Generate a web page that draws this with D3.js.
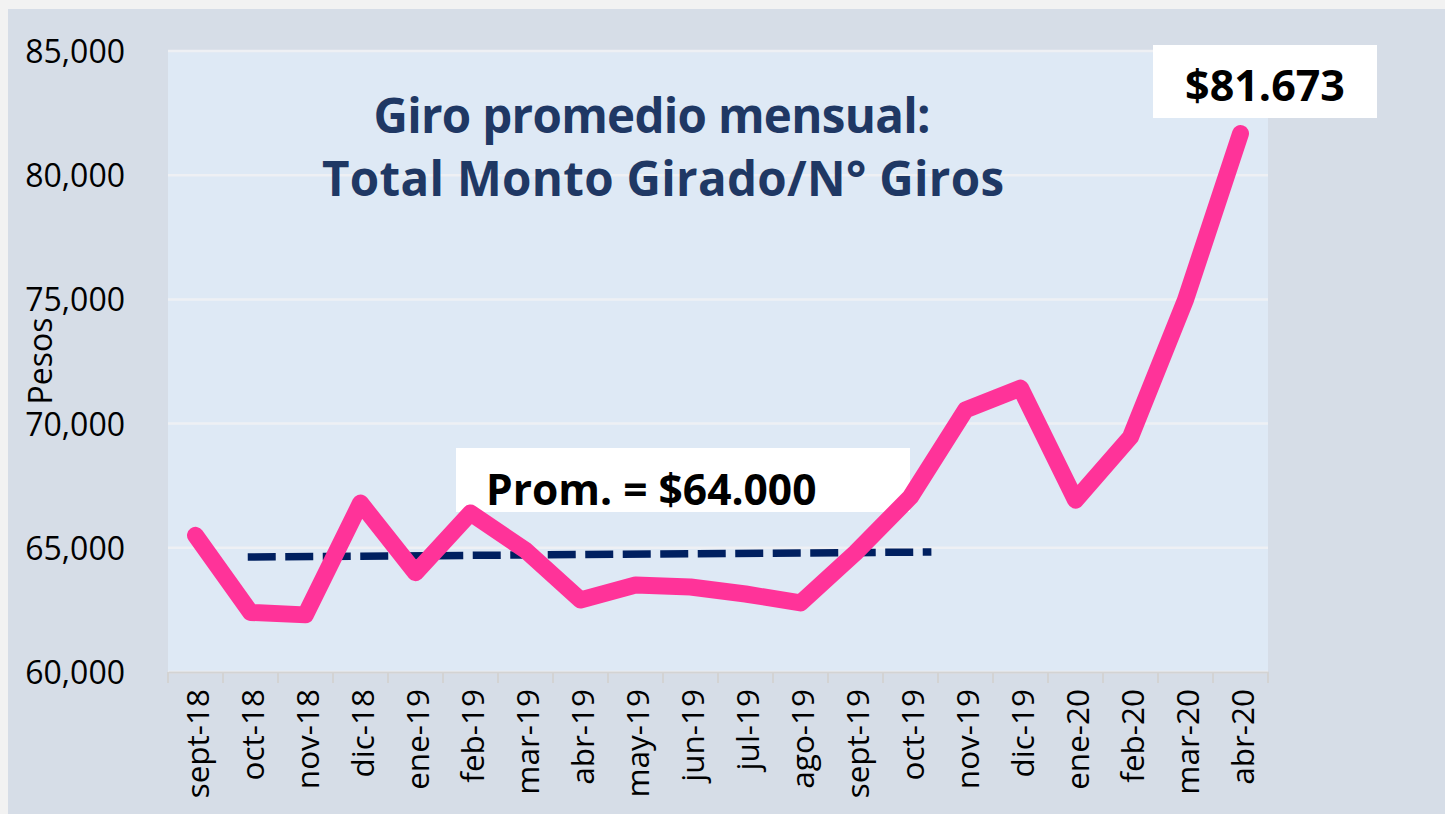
<!DOCTYPE html>
<html>
<head>
<meta charset="utf-8">
<script src="https://cdn.jsdelivr.net/npm/d3@7"></script>
<style>
  html, body { margin: 0; padding: 0; background: #f2f2f2; }
  #chart-area { width: 1445px; height: 814px; }
</style>
</head>
<body>
<div id="chart-area"></div>
<script>
// data
let months = ["sept-18", "oct-18", "nov-18", "dic-18", "ene-19", "feb-19", "mar-19", "abr-19",
	"may-19", "jun-19", "jul-19", "ago-19", "sept-19", "oct-19", "nov-19", "dic-19",
	"ene-20", "feb-20", "mar-20", "abr-20"];
let giroPromedio = [65500, 62400, 62300, 66800, 64000, 66400, 64900, 62900,
	63500, 63420, 63140, 62780, 64800, 67050, 70550, 71430,
	66920, 69460, 74980, 81673];
// dashed average line: month index where it starts / ends and its value there
let promIdx = [0.95, 13.38];
let promVal = [64630, 64830];
let yTicks = [60000, 65000, 70000, 75000, 80000, 85000];

let W = 1445, H = 814;
let margin = {top: 51, right: 177, bottom: 142, left: 168};
let width = W - margin.left - margin.right;
let height = H - margin.top - margin.bottom;

let root = d3.select("#chart-area").append("svg")
	.attr("width", W)
	.attr("height", H);

// chart frame
root.append("rect")
	.attr("x", 8).attr("y", 9)
	.attr("width", W - 8).attr("height", H - 9)
	.attr("fill", "#d6dde7");

let svg = root.append("g")
	.attr("transform", `translate(${margin.left},${margin.top})`);

// plot area
svg.append("rect")
	.attr("width", width)
	.attr("height", height)
	.attr("fill", "#dee9f5");

// scales
let xScale = d3.scaleBand()
	.domain(months)
	.range([0, width]);

let xIdx = d3.scaleLinear()
	.domain([0, months.length - 1])
	.range([xScale.bandwidth() / 2, width - xScale.bandwidth() / 2]);

let yScale = d3.scaleLinear()
	.domain([60000, 85000])
	.range([height, 0]);

// gridlines
svg.selectAll(".grid")
	.data(yTicks)
	.enter().append("line")
	.attr("class", "grid")
	.attr("x1", 0).attr("x2", width)
	.attr("y1", d => yScale(d)).attr("y2", d => yScale(d))
	.attr("stroke", "#eef0f4")
	.attr("stroke-width", 2.5);

// y axis
let yAxis = d3.axisLeft(yScale)
	.tickValues(yTicks)
	.tickFormat(d3.format(","))
	.tickSize(0)
	.tickPadding(43);

let yGroup = svg.append("g").call(yAxis);
yGroup.select(".domain").remove();
yGroup.selectAll("text")
	.attr("font-family", "'Open Sans', sans-serif")
	.attr("font-size", 32)
	.attr("fill", "#000")
	.attr("dy", "0.36em");

// x axis
let xAxis = d3.axisBottom(xScale)
	.tickSize(0)
	.tickPadding(0);

let xGroup = svg.append("g")
	.attr("transform", `translate(0,${height})`)
	.call(xAxis);
xGroup.select(".domain")
	.attr("stroke", "#d3d3d3")
	.attr("stroke-width", 2);
xGroup.selectAll("text")
	.attr("font-family", "'Open Sans', sans-serif")
	.attr("font-size", 31.5)
	.attr("fill", "#000")
	.attr("text-anchor", "end")
	.attr("transform", "rotate(-90)")
	.attr("x", -17)
	.attr("y", 2)
	.attr("dy", "0.36em");

// tick marks at the band edges
svg.selectAll(".xtick")
	.data(d3.range(months.length + 1))
	.enter().append("line")
	.attr("class", "xtick")
	.attr("x1", d => d * xScale.step())
	.attr("x2", d => d * xScale.step())
	.attr("y1", height)
	.attr("y2", height + 11)
	.attr("stroke", "#d3d3d3")
	.attr("stroke-width", 2);

// y axis title
root.append("text")
	.attr("transform", `translate(52,${361}) rotate(-90)`)
	.attr("text-anchor", "middle")
	.attr("font-family", "'Open Sans', sans-serif")
	.attr("font-size", 32)
	.attr("fill", "#000")
	.text("Pesos");

// title
let title = svg.append("text")
	.attr("font-family", "'Open Sans', sans-serif")
	.attr("font-weight", "bold")
	.attr("font-size", 47.5)
	.attr("fill", "#1f3864")
	.attr("text-anchor", "middle");
title.append("tspan")
	.attr("x", 652 - margin.left).attr("y", 133 - margin.top)
	.attr("textLength", 557)
	.text("Giro promedio mensual:");
title.append("tspan")
	.attr("x", 663 - margin.left).attr("y", 196 - margin.top)
	.attr("textLength", 682)
	.text("Total Monto Girado/N° Giros");

// average dashed line
let promData = promIdx.map((d, i) => ({i: d, v: promVal[i]}));
let promLine = d3.line()
	.x(d => xIdx(d.i))
	.y(d => yScale(d.v));

svg.append("path")
	.datum(promData)
	.attr("d", promLine)
	.attr("fill", "none")
	.attr("stroke", "#002060")
	.attr("stroke-width", 7.5)
	.attr("stroke-dasharray", "28,9.5");

// label box for the average
svg.append("rect")
	.attr("x", 456 - margin.left).attr("y", 448 - margin.top)
	.attr("width", 454).attr("height", 64)
	.attr("fill", "#fff");
svg.append("text")
	.attr("x", 486 - margin.left).attr("y", 505 - margin.top)
	.attr("font-family", "'Open Sans', sans-serif")
	.attr("font-weight", "bold")
	.attr("font-size", 42.5)
	.attr("fill", "#000")
	.text("Prom. = $64.000");

// main series
let lineData = months.map((m, i) => ({m: m, v: giroPromedio[i]}));
let line = d3.line()
	.x(d => xScale(d.m) + xScale.bandwidth() / 2)
	.y(d => yScale(d.v));

svg.append("path")
	.datum(lineData)
	.attr("d", line)
	.attr("fill", "none")
	.attr("stroke", "#ff3399")
	.attr("stroke-width", 17)
	.attr("stroke-linejoin", "round")
	.attr("stroke-linecap", "round");

// label box for the last value
let last = lineData[lineData.length - 1];
svg.append("rect")
	.attr("x", 1153 - margin.left).attr("y", 45 - margin.top)
	.attr("width", 224).attr("height", 73)
	.attr("fill", "#fff");
svg.append("text")
	.attr("x", 1265 - margin.left).attr("y", 101 - margin.top)
	.attr("text-anchor", "middle")
	.attr("font-family", "'Open Sans', sans-serif")
	.attr("font-weight", "bold")
	.attr("font-size", 43)
	.attr("fill", "#000")
	.text("$" + d3.format(",")(last.v).replace(",", "."));
</script>
</body>
</html>
